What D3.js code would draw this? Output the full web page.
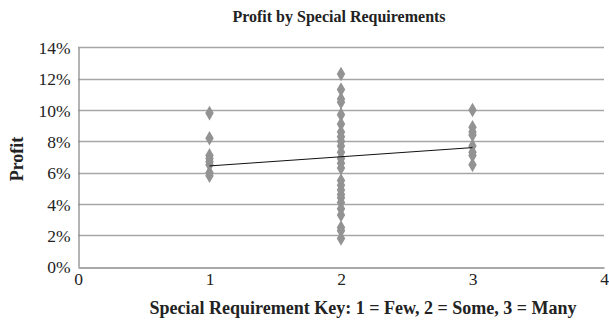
<!DOCTYPE html>
<html><head><meta charset="utf-8">
<script src="https://cdn.jsdelivr.net/npm/d3@7"></script>
<style>body{margin:0;background:#fff}svg{display:block}text{font-family:"Liberation Serif","Times New Roman",serif;fill:#222}</style>
</head><body><svg id="c" width="609" height="321"></svg>
<script>
const title = "Profit by Special Requirements";
const xTitle = "Special Requirement Key: 1 = Few, 2 = Some, 3 = Many";
const yTitle = "Profit";
const xTicks = [0, 1, 2, 3, 4];
const yTicks = [0, 0.02, 0.04, 0.06, 0.08, 0.10, 0.12, 0.14];
const fewProfit = [0.098, 0.082, 0.071, 0.069, 0.067, 0.065, 0.060, 0.058];
const someProfit = [0.123, 0.113, 0.107, 0.105, 0.097, 0.091, 0.086, 0.083, 0.080, 0.077, 0.073, 0.069, 0.066, 0.063, 0.055, 0.052, 0.049, 0.046, 0.044, 0.041, 0.037, 0.033, 0.025, 0.023, 0.018];
const manyProfit = [0.100, 0.089, 0.086, 0.084, 0.077, 0.073, 0.071, 0.065];
const trendX = [1, 3];
const trendY = [0.0643, 0.076];

const points = [].concat(
  fewProfit.map(v => ({k: 1, v})),
  someProfit.map(v => ({k: 2, v})),
  manyProfit.map(v => ({k: 3, v}))
);

const svg = d3.select("#c");
const L = 78, R = 604, T = 47.3, B = 266.7;
const x = d3.scaleLinear().domain([0, 4]).range([L, R]);
const y = d3.scaleLinear().domain([0, 0.14]).range([B, T]);

// gridlines
svg.append("g").selectAll("line").data(yTicks.filter(d => d > 0)).join("line")
  .attr("x1", L).attr("x2", R)
  .attr("y1", d => Math.round(y(d)) + 0.5).attr("y2", d => Math.round(y(d)) + 0.5)
  .attr("stroke", "#a6a6a6").attr("stroke-width", 1.3);

// axes
const yAxis = svg.append("g").attr("transform", `translate(${L + 0.5},0)`)
  .call(d3.axisLeft(y).tickValues(yTicks).tickFormat(d3.format(".0%")).tickSize(0).tickPadding(8));
const xAxis = svg.append("g").attr("transform", `translate(0,${Math.round(B) + 0.5})`)
  .call(d3.axisBottom(x).tickValues(xTicks).tickFormat(d3.format("d")).tickSize(0).tickPadding(5));
[yAxis, xAxis].forEach(g => {
  g.select(".domain").attr("stroke", "#8c8c8c").attr("stroke-width", 1.3);
  g.selectAll("text").style("font-size", "17.5px").attr("fill", "#333")
    .style("font-family", '"Liberation Serif","Times New Roman",serif');
});
yAxis.selectAll("text").attr("dy", "0.35em");
xAxis.selectAll("text").attr("dy", "0.71em");

// points
const sym = d3.symbol().type(d3.symbolDiamond).size(56);
svg.append("g").selectAll("path").data(points).join("path")
  .attr("d", sym)
  .attr("transform", d => `translate(${x(d.k)},${y(d.v)}) scale(1.05,1.05)`)
  .attr("fill", "#939393");

// trend line
svg.append("path")
  .datum(trendX.map((k, i) => [k, trendY[i]]))
  .attr("d", d3.line().x(d => x(d[0])).y(d => y(d[1])))
  .attr("stroke", "#111").attr("stroke-width", 1).attr("fill", "none");

// titles
svg.append("text").attr("x", 339).attr("y", 22).attr("text-anchor", "middle")
  .style("font-size", "16px").style("font-weight", "bold").text(title);
svg.append("text").attr("x", 363).attr("y", 314).attr("text-anchor", "middle")
  .style("font-size", "18px").style("font-weight", "bold").text(xTitle);
svg.append("text").attr("transform", `translate(23,${(T + B) / 2 + 2}) rotate(-90)`)
  .attr("text-anchor", "middle").style("font-size", "18px").style("font-weight", "bold").text(yTitle);
</script></body></html>
